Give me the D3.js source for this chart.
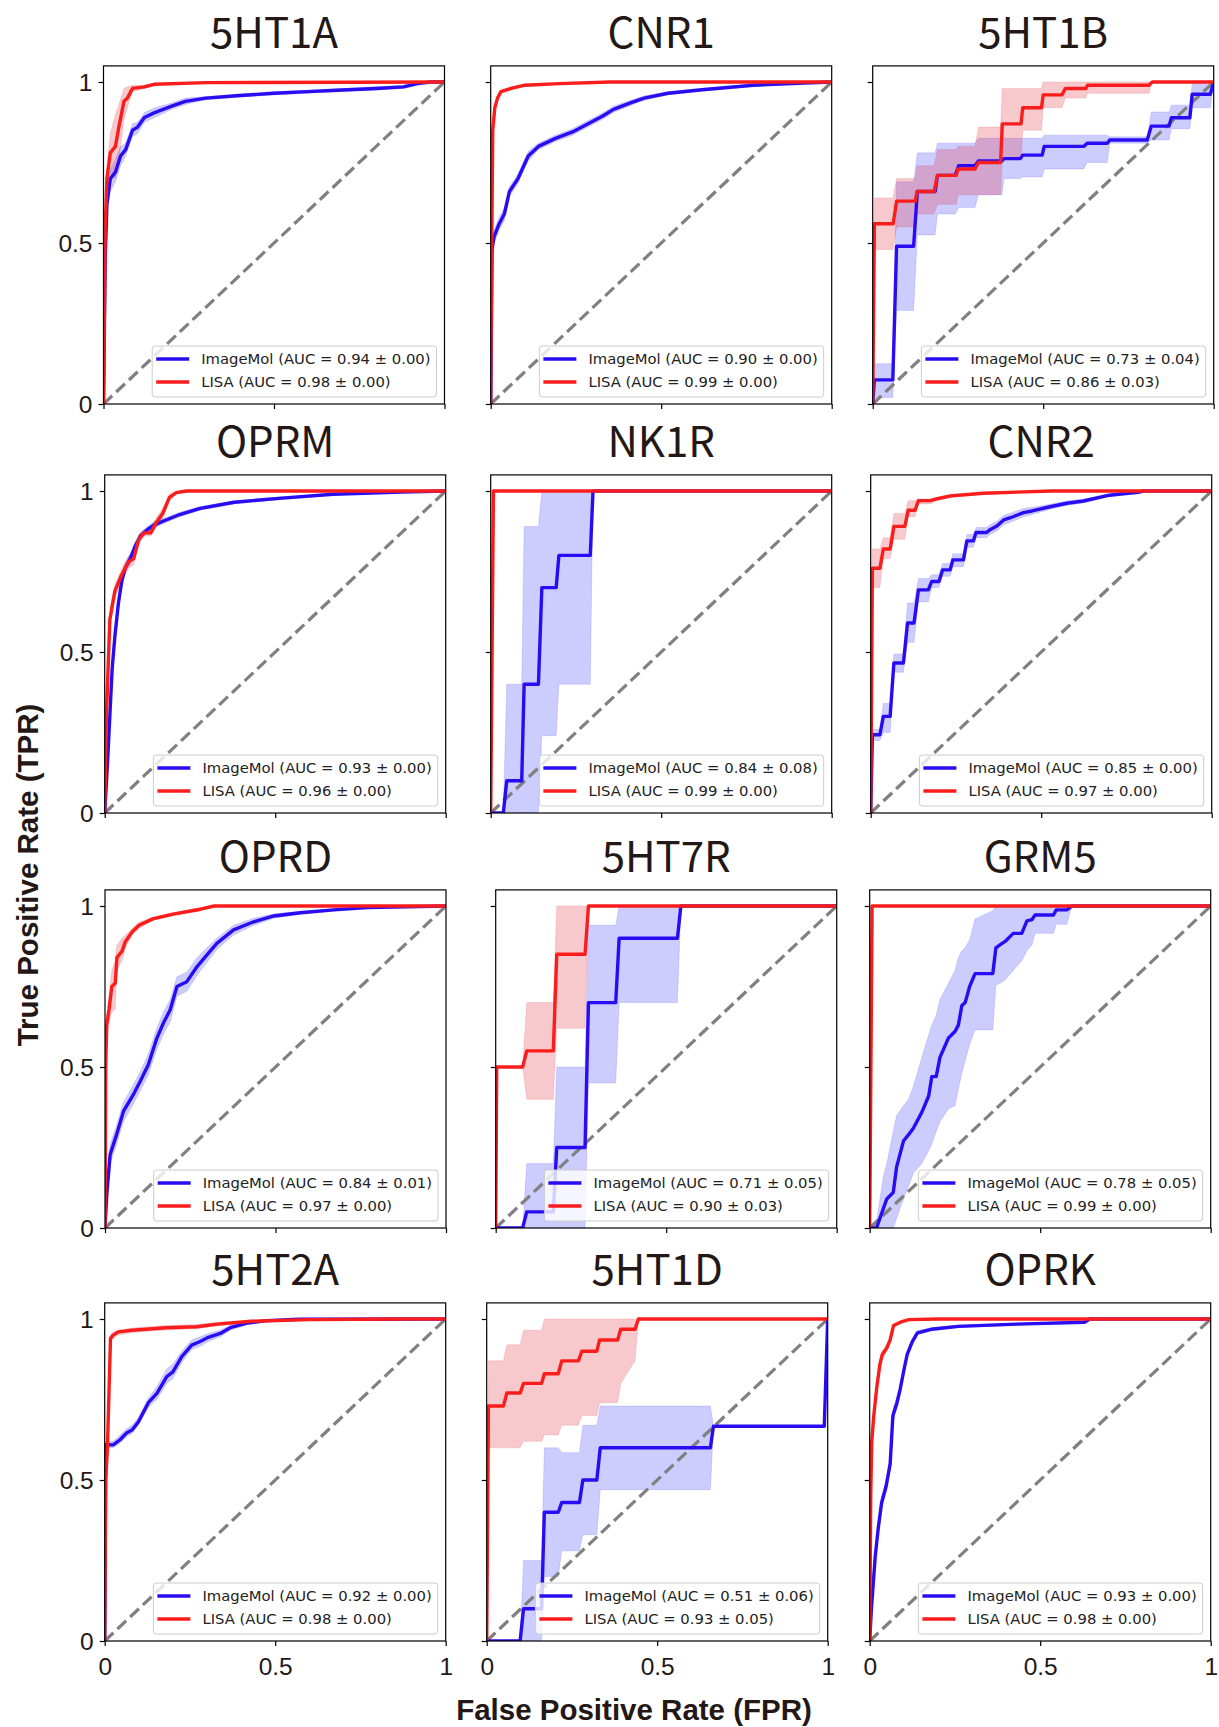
<!DOCTYPE html>
<html>
<head>
<meta charset="utf-8">
<script src="https://cdn.jsdelivr.net/npm/d3@7"></script>
<style>
  body { margin: 0; background: #fff; }
</style>
</head>
<body>
<svg id="canvas" width="1219" height="1727"></svg>
<script>
const targets = ['5HT1A', 'CNR1', '5HT1B', 'OPRM', 'NK1R', 'CNR2', 'OPRD', '5HT7R', 'GRM5', '5HT2A', '5HT1D', 'OPRK']
const aucImageMol = ['0.94 ± 0.00', '0.90 ± 0.00', '0.73 ± 0.04', '0.93 ± 0.00', '0.84 ± 0.08', '0.85 ± 0.00',
                     '0.84 ± 0.01', '0.71 ± 0.05', '0.78 ± 0.05', '0.92 ± 0.00', '0.51 ± 0.06', '0.93 ± 0.00']
const aucLisa = ['0.98 ± 0.00', '0.99 ± 0.00', '0.86 ± 0.03', '0.96 ± 0.00', '0.99 ± 0.00', '0.97 ± 0.00',
                 '0.97 ± 0.00', '0.90 ± 0.03', '0.99 ± 0.00', '0.98 ± 0.00', '0.93 ± 0.05', '0.98 ± 0.00']
const tickValues = [0, 0.5, 1]
const tickLabels = ['0', '0.5', '1']
const modelNames = ['ImageMol', 'LISA']

// every point: [fpr, mean tpr, mean - std, mean + std]
const roc5HT1A_imageMol = [[0,0,0,0],[0.005,0.45,0.43,0.47],[0.01,0.62,0.6,0.64],[0.02,0.70,0.66,0.73],[0.035,0.72,0.69,0.76],
  [0.05,0.77,0.74,0.8],[0.065,0.79,0.77,0.81],[0.085,0.85,0.83,0.87],[0.1,0.86,0.84,0.875],[0.12,0.89,0.875,0.905],
  [0.15,0.905,0.89,0.92],[0.2,0.925,0.915,0.935],[0.24,0.94,0.93,0.95],[0.3,0.95,0.945,0.955],[0.4,0.958,0.953,0.963],
  [0.5,0.965,0.96,0.97],[0.6,0.97,0.965,0.975],[0.7,0.975,0.97,0.98],[0.8,0.98,0.975,0.985],[0.88,0.985,0.98,0.99],
  [0.92,0.995,0.99,1],[0.96,1,1,1],[1,1,1,1]]
const roc5HT1A_lisa = [[0,0,0,0],[0.005,0.55,0.5,0.6],[0.01,0.70,0.65,0.74],[0.02,0.78,0.72,0.84],[0.035,0.80,0.70,0.9],
  [0.045,0.86,0.76,0.93],[0.06,0.94,0.88,0.98],[0.07,0.95,0.92,0.985],[0.085,0.98,0.97,0.99],[0.12,0.985,0.98,0.99],
  [0.15,0.993,0.99,0.996],[0.3,0.998,0.996,1],[1,1,1,1]]

const rocCNR1_imageMol = [[0,0,0,0],[0.004,0.48,0.46,0.5],[0.01,0.52,0.5,0.54],[0.025,0.56,0.54,0.58],[0.04,0.59,0.57,0.61],
  [0.055,0.66,0.645,0.675],[0.08,0.7,0.685,0.715],[0.11,0.77,0.755,0.785],[0.14,0.8,0.79,0.81],[0.19,0.825,0.815,0.835],
  [0.24,0.845,0.835,0.855],[0.29,0.873,0.863,0.883],[0.33,0.895,0.885,0.905],[0.36,0.915,0.905,0.925],[0.41,0.935,0.927,0.943],
  [0.45,0.95,0.943,0.957],[0.52,0.965,0.96,0.97],[0.62,0.976,0.972,0.98],[0.77,0.99,0.987,0.993],[0.92,0.997,0.995,0.999],[1,1,1,1]]
const rocCNR1_lisa = [[0,0,0,0],[0.003,0.5,0.48,0.52],[0.006,0.85,0.83,0.87],[0.012,0.92,0.91,0.93],[0.02,0.95,0.945,0.96],
  [0.03,0.97,0.965,0.975],[0.06,0.98,0.975,0.985],[0.1,0.99,0.987,0.993],[0.2,0.995,0.993,0.997],[0.35,1,1,1],[1,1,1,1]]

const roc5HT1B_imageMol = [[0,0,0,0],[0.005,0.075,0.02,0.125],[0.059,0.075,0.02,0.125],[0.07,0.49,0.29,0.69],[0.12,0.49,0.29,0.69],
  [0.131,0.66,0.525,0.78],[0.183,0.66,0.525,0.78],[0.19,0.71,0.59,0.81],[0.242,0.71,0.59,0.81],[0.252,0.74,0.61,0.81],
  [0.30,0.74,0.61,0.81],[0.31,0.755,0.65,0.825],[0.379,0.755,0.65,0.825],[0.385,0.762,0.70,0.825],[0.433,0.762,0.70,0.825],
  [0.44,0.773,0.705,0.825],[0.497,0.773,0.705,0.825],[0.503,0.80,0.73,0.835],[0.619,0.80,0.73,0.835],[0.629,0.81,0.75,0.835],
  [0.688,0.81,0.75,0.835],[0.695,0.82,0.81,0.83],[0.805,0.82,0.81,0.83],[0.817,0.863,0.82,0.907],[0.869,0.863,0.82,0.907],
  [0.876,0.889,0.855,0.928],[0.93,0.889,0.855,0.928],[0.937,0.962,0.92,0.995],[0.99,0.962,0.92,0.995],[1,1,1,1]]
const roc5HT1B_lisa = [[0,0,0,0],[0.005,0.56,0.48,0.64],[0.06,0.56,0.48,0.64],[0.07,0.63,0.55,0.70],[0.125,0.63,0.55,0.70],
  [0.13,0.66,0.59,0.74],[0.18,0.66,0.59,0.74],[0.19,0.71,0.62,0.79],[0.245,0.71,0.62,0.79],[0.25,0.73,0.65,0.80],
  [0.30,0.73,0.65,0.80],[0.31,0.75,0.65,0.86],[0.375,0.75,0.65,0.86],[0.38,0.87,0.76,0.98],[0.435,0.87,0.76,0.98],
  [0.44,0.92,0.85,0.98],[0.495,0.92,0.85,0.98],[0.50,0.96,0.92,1],[0.555,0.96,0.92,1],[0.565,0.98,0.95,1],
  [0.625,0.98,0.95,1],[0.63,0.99,0.965,1],[0.81,0.99,0.965,1],[0.82,1,1,1],[1,1,1,1]]

const rocOPRM_imageMol = [[0,0,0,0],[0.008,0.15,0.13,0.17],[0.015,0.3,0.28,0.32],[0.022,0.45,0.43,0.47],[0.03,0.55,0.53,0.57],
  [0.04,0.65,0.63,0.67],[0.05,0.72,0.70,0.74],[0.06,0.76,0.745,0.775],[0.075,0.79,0.775,0.805],[0.09,0.83,0.815,0.845],
  [0.105,0.86,0.848,0.872],[0.125,0.88,0.87,0.89],[0.145,0.895,0.885,0.905],[0.18,0.91,0.902,0.918],[0.22,0.927,0.92,0.934],
  [0.28,0.946,0.94,0.952],[0.38,0.965,0.96,0.97],[0.52,0.978,0.974,0.982],[0.67,0.99,0.987,0.993],[0.87,0.997,0.995,0.999],[1,1,1,1]]
const rocOPRM_lisa = [[0,0,0,0],[0.005,0.3,0.28,0.32],[0.015,0.6,0.58,0.63],[0.02,0.63,0.61,0.66],[0.03,0.69,0.67,0.71],
  [0.05,0.74,0.72,0.76],[0.07,0.78,0.76,0.8],[0.085,0.79,0.77,0.81],[0.1,0.85,0.835,0.865],[0.115,0.87,0.86,0.88],
  [0.135,0.87,0.86,0.885],[0.15,0.9,0.885,0.915],[0.17,0.93,0.915,0.945],[0.19,0.98,0.97,0.99],[0.21,0.995,0.99,1],[0.24,1,1,1],[1,1,1,1]]

const rocNK1R_imageMol = [[0,0,0,0],[0.037,0,0,0],[0.047,0.10,0,0.40],[0.091,0.10,0,0.40],[0.098,0.40,0,0.89],[0.14,0.40,0,0.89],
  [0.15,0.70,0.24,1],[0.192,0.70,0.24,1],[0.20,0.80,0.40,1],[0.292,0.80,0.40,1],[0.30,1,1,1],[1,1,1,1]]
const rocNK1R_lisa = [[0,0,0,0],[0.008,1,1,1],[1,1,1,1]]

const rocCNR2_imageMol = [[0,0,0,0],[0.005,0.243,0.225,0.26],[0.027,0.243,0.225,0.26],[0.037,0.30,0.25,0.34],[0.057,0.30,0.25,0.34],
  [0.068,0.466,0.437,0.494],[0.096,0.466,0.437,0.494],[0.108,0.59,0.53,0.652],[0.127,0.59,0.53,0.652],[0.14,0.693,0.656,0.728],
  [0.169,0.693,0.656,0.728],[0.179,0.719,0.70,0.74],[0.2,0.719,0.70,0.74],[0.211,0.755,0.735,0.775],[0.233,0.755,0.735,0.775],
  [0.241,0.786,0.765,0.805],[0.272,0.786,0.765,0.805],[0.282,0.845,0.825,0.865],[0.301,0.845,0.825,0.865],[0.309,0.871,0.855,0.887],
  [0.34,0.871,0.855,0.887],[0.35,0.88,0.865,0.895],[0.37,0.891,0.876,0.906],[0.39,0.91,0.895,0.925],[0.41,0.917,0.903,0.931],
  [0.448,0.933,0.92,0.946],[0.473,0.938,0.927,0.949],[0.526,0.951,0.943,0.959],[0.575,0.962,0.955,0.969],[0.624,0.969,0.963,0.975],
  [0.70,0.987,0.983,0.991],[0.79,0.997,0.996,0.998],[0.8,1,1,1],[1,1,1,1]]
const rocCNR2_lisa = [[0,0,0,0],[0.005,0.76,0.70,0.82],[0.027,0.76,0.70,0.82],[0.037,0.82,0.79,0.855],[0.057,0.82,0.79,0.855],
  [0.068,0.89,0.85,0.93],[0.10,0.89,0.85,0.93],[0.11,0.94,0.92,0.97],[0.13,0.94,0.92,0.97],[0.14,0.97,0.96,0.975],
  [0.175,0.97,0.96,0.975],[0.195,0.976,0.97,0.98],[0.235,0.985,0.98,0.99],[0.33,0.993,0.99,0.996],[0.53,1,1,1],[1,1,1,1]]

const rocOPRD_imageMol = [[0,0,0,0],[0.005,0.1,0.08,0.12],[0.015,0.228,0.2,0.26],[0.034,0.29,0.26,0.32],[0.054,0.362,0.33,0.39],
  [0.083,0.414,0.385,0.445],[0.103,0.455,0.425,0.485],[0.127,0.507,0.475,0.54],[0.152,0.589,0.555,0.62],[0.171,0.636,0.6,0.67],
  [0.191,0.677,0.64,0.71],[0.211,0.75,0.72,0.78],[0.24,0.765,0.735,0.795],[0.27,0.812,0.785,0.84],[0.299,0.848,0.825,0.87],
  [0.328,0.884,0.865,0.9],[0.377,0.926,0.91,0.94],[0.436,0.951,0.94,0.962],[0.495,0.969,0.962,0.976],[0.573,0.979,0.974,0.984],
  [0.671,0.988,0.985,0.991],[0.769,0.995,0.993,0.997],[1,1,1,1]]
const rocOPRD_lisa = [[0,0,0,0],[0.002,0.5,0.45,0.55],[0.005,0.63,0.6,0.66],[0.012,0.68,0.64,0.72],[0.02,0.75,0.67,0.8],
  [0.03,0.76,0.68,0.83],[0.035,0.84,0.8,0.88],[0.05,0.86,0.83,0.9],[0.06,0.89,0.87,0.91],[0.08,0.92,0.91,0.93],
  [0.1,0.94,0.93,0.95],[0.14,0.96,0.955,0.965],[0.2,0.975,0.97,0.98],[0.28,0.99,0.985,0.995],[0.32,1,1,1],[1,1,1,1]]

const roc5HT7R_imageMol = [[0,0,0,0],[0.079,0,0,0],[0.091,0.05,0,0.20],[0.169,0.05,0,0.20],[0.179,0.25,0,0.50],[0.262,0.25,0,0.50],
  [0.272,0.70,0.45,0.94],[0.352,0.70,0.45,0.94],[0.362,0.90,0.70,1],[0.533,0.90,0.70,1],[0.543,1,1,1],[1,1,1,1]]
const roc5HT7R_lisa = [[0,0,0,0],[0.003,0.5,0.5,0.5],[0.079,0.5,0.5,0.5],[0.091,0.55,0.40,0.70],[0.169,0.55,0.40,0.70],
  [0.179,0.85,0.62,1],[0.262,0.85,0.62,1],[0.272,1,1,1],[1,1,1,1]]

const rocGRM5_imageMol = [[0,0,0,0],[0.02,0,0,0.02],[0.04,0.06,0,0.16],[0.05,0.09,0,0.2],[0.069,0.11,0,0.3],[0.079,0.19,0.03,0.35],
  [0.099,0.27,0.09,0.38],[0.114,0.29,0.13,0.4],[0.128,0.31,0.17,0.44],[0.153,0.36,0.2,0.53],[0.173,0.41,0.24,0.6],
  [0.182,0.47,0.26,0.63],[0.195,0.47,0.3,0.66],[0.206,0.53,0.33,0.71],[0.231,0.59,0.37,0.76],[0.25,0.61,0.38,0.8],
  [0.26,0.63,0.43,0.84],[0.27,0.69,0.48,0.86],[0.28,0.70,0.52,0.87],[0.293,0.75,0.57,0.895],[0.309,0.79,0.615,0.96],
  [0.361,0.79,0.615,0.985],[0.37,0.87,0.755,1],[0.383,0.88,0.76,1],[0.397,0.89,0.77,1],[0.421,0.915,0.80,1],
  [0.446,0.915,0.83,1],[0.461,0.954,0.86,1],[0.476,0.958,0.88,1],[0.485,0.972,0.915,1],[0.539,0.972,0.915,1],
  [0.547,0.988,0.943,1],[0.578,0.988,0.943,1],[0.593,1,1,1],[1,1,1,1]]
const rocGRM5_lisa = [[0,0,0,0],[0.007,1,1,1],[1,1,1,1]]

const roc5HT2A_imageMol = [[0,0,0,0],[0.003,0.61,0.6,0.62],[0.025,0.609,0.6,0.62],[0.045,0.625,0.615,0.64],[0.065,0.647,0.635,0.66],
  [0.08,0.655,0.645,0.67],[0.099,0.681,0.67,0.695],[0.128,0.74,0.725,0.755],[0.153,0.769,0.75,0.79],[0.182,0.821,0.8,0.845],
  [0.2,0.836,0.815,0.86],[0.226,0.883,0.865,0.9],[0.255,0.919,0.905,0.935],[0.28,0.93,0.915,0.945],[0.304,0.943,0.93,0.955],
  [0.339,0.955,0.945,0.965],[0.368,0.973,0.965,0.98],[0.417,0.987,0.982,0.992],[0.475,0.995,0.993,0.997],[0.57,0.999,0.998,1],[1,1,1,1]]
const roc5HT2A_lisa = [[0,0,0,0],[0.003,0.5,0.49,0.51],[0.008,0.6,0.59,0.61],[0.017,0.94,0.93,0.95],[0.025,0.95,0.94,0.96],
  [0.04,0.96,0.95,0.965],[0.08,0.965,0.958,0.972],[0.18,0.973,0.966,0.98],[0.27,0.976,0.97,0.983],[0.33,0.984,0.978,0.99],
  [0.43,0.993,0.99,0.996],[0.6,0.998,0.997,0.999],[0.87,1,1,1],[1,1,1,1]]

const roc5HT1D_imageMol = [[0,0,0,0],[0.098,0,0,0],[0.108,0.10,0,0.25],[0.161,0.10,0,0.25],[0.169,0.40,0.20,0.60],[0.21,0.40,0.20,0.60],
  [0.22,0.43,0.28,0.585],[0.272,0.43,0.28,0.585],[0.282,0.50,0.33,0.67],[0.323,0.50,0.33,0.67],[0.333,0.60,0.47,0.73],
  [0.656,0.60,0.47,0.73],[0.665,0.667,0.667,0.667],[0.99,0.667,0.667,0.667],[1,1,1,1]]
const roc5HT1D_lisa = [[0,0,0,0],[0.005,0.73,0.60,0.87],[0.049,0.73,0.60,0.87],[0.059,0.77,0.60,0.92],[0.098,0.77,0.60,0.92],
  [0.108,0.80,0.62,0.965],[0.161,0.80,0.62,0.965],[0.169,0.83,0.64,1],[0.21,0.83,0.64,1],[0.22,0.87,0.67,1],
  [0.269,0.87,0.67,1],[0.279,0.90,0.70,1],[0.323,0.90,0.70,1],[0.331,0.935,0.74,1],[0.384,0.935,0.74,1],
  [0.393,0.968,0.80,1],[0.435,0.968,0.87,1],[0.445,1,1,1],[1,1,1,1]]

const rocOPRK_imageMol = [[0,0,0,0],[0.005,0.1,0.08,0.12],[0.016,0.26,0.24,0.28],[0.025,0.35,0.33,0.37],[0.035,0.43,0.41,0.45],
  [0.048,0.48,0.46,0.5],[0.06,0.55,0.53,0.57],[0.068,0.7,0.68,0.72],[0.08,0.74,0.72,0.76],[0.089,0.78,0.765,0.795],
  [0.1,0.84,0.825,0.855],[0.11,0.89,0.88,0.9],[0.125,0.93,0.92,0.94],[0.14,0.957,0.95,0.964],[0.18,0.968,0.963,0.973],
  [0.26,0.977,0.973,0.981],[0.43,0.984,0.981,0.987],[0.63,0.99,0.988,0.992],[0.645,1,1,1],[1,1,1,1]]
const rocOPRK_lisa = [[0,0,0,0],[0.003,0.45,0.43,0.47],[0.006,0.62,0.6,0.64],[0.012,0.7,0.68,0.72],[0.021,0.79,0.77,0.81],
  [0.03,0.86,0.84,0.875],[0.037,0.89,0.875,0.9],[0.05,0.91,0.9,0.92],[0.06,0.935,0.925,0.945],[0.07,0.98,0.975,0.985],
  [0.09,0.99,0.987,0.993],[0.115,0.998,0.997,0.999],[0.2,1,1,1],[1,1,1,1]]

const imageMolCurves = [roc5HT1A_imageMol, rocCNR1_imageMol, roc5HT1B_imageMol, rocOPRM_imageMol, rocNK1R_imageMol, rocCNR2_imageMol,
  rocOPRD_imageMol, roc5HT7R_imageMol, rocGRM5_imageMol, roc5HT2A_imageMol, roc5HT1D_imageMol, rocOPRK_imageMol]
const lisaCurves = [roc5HT1A_lisa, rocCNR1_lisa, roc5HT1B_lisa, rocOPRM_lisa, rocNK1R_lisa, rocCNR2_lisa,
  rocOPRD_lisa, roc5HT7R_lisa, rocGRM5_lisa, roc5HT2A_lisa, roc5HT1D_lisa, rocOPRK_lisa]

// layout: left edge of each frame and the pixel row of tpr = 0
const panelLeft = [103.5, 490.7, 872.7, 104.7, 490.7, 870.7, 105, 495.7, 869.7, 104.7, 486.7, 869.7]
const rowBase = [404, 813, 1228, 1641]
const plotW = 341
const unitH = 322

const blue = '#2a0cf2'
const red = '#fb1c1c'
const ink = '#231815'

let canvas = d3.select('#canvas')

function drawPanel(i) {
    let col = i % 3
    let row = Math.floor(i / 3)
    let left = panelLeft[i]
    let base = rowBase[row]

    let x = d3.scaleLinear().domain([0, 1]).range([left, left + plotW])
    let y = d3.scaleLinear().domain([0, 1]).range([base, base - unitH])
    let top = y(1.05)

    let g = canvas.append('g')

    g.append('clipPath').attr('id', 'clip' + i)
        .append('rect')
        .attr('x', x(0)).attr('y', top)
        .attr('width', plotW).attr('height', base - top)

    let plot = g.append('g').attr('clip-path', 'url(#clip' + i + ')')

    let band = d3.area()
        .x((d) => x(d[0]))
        .y0((d) => y(d[2]))
        .y1((d) => y(d[3]))
    let line = d3.line()
        .x((d) => x(d[0]))
        .y((d) => y(d[1]))

    plot.append('path').attr('d', band(imageMolCurves[i]))
        .attr('fill', '#0000ff').attr('fill-opacity', 0.2)
        .attr('stroke', '#0000ff').attr('stroke-opacity', 0.12).attr('stroke-width', 1)
    plot.append('path').attr('d', band(lisaCurves[i]))
        .attr('fill', '#e0303c').attr('fill-opacity', 0.26)
        .attr('stroke', '#e0303c').attr('stroke-opacity', 0.15).attr('stroke-width', 1)

    // chance line
    plot.append('line')
        .attr('x1', x(0)).attr('y1', y(0))
        .attr('x2', x(1)).attr('y2', y(1))
        .attr('stroke', '#808080').attr('stroke-width', 3.2)
        .attr('stroke-dasharray', '12,5.5')

    plot.append('path').attr('d', line(imageMolCurves[i]))
        .attr('fill', 'none').attr('stroke', blue).attr('stroke-width', 3.4)
        .attr('stroke-linejoin', 'round')
    plot.append('path').attr('d', line(lisaCurves[i]))
        .attr('fill', 'none').attr('stroke', red).attr('stroke-width', 3.4)
        .attr('stroke-linejoin', 'round')

    // frame
    g.append('rect')
        .attr('x', x(0)).attr('y', top)
        .attr('width', plotW).attr('height', base - top)
        .attr('fill', 'none').attr('stroke', '#000').attr('stroke-width', 1.2)

    let yAxis = d3.axisLeft(y).tickValues(tickValues).tickSize(5).tickPadding(6)
        .tickFormat((d, k) => col === 0 ? tickLabels[k] : '')
    let xAxis = d3.axisBottom(x).tickValues(tickValues).tickSize(5).tickPadding(6)
        .tickFormat((d, k) => row === 3 ? tickLabels[k] : '')

    let ya = g.append('g').attr('transform', 'translate(' + x(0) + ',0)').call(yAxis)
    let xa = g.append('g').attr('transform', 'translate(0,' + base + ')').call(xAxis)
    for (let a of [ya, xa]) {
        a.select('.domain').remove()
        a.selectAll('line').attr('stroke', '#000').attr('stroke-width', 1.2)
        a.selectAll('text')
            .attr('font-family', '"Liberation Sans", Arial, sans-serif')
            .attr('font-size', 24.5).attr('fill', ink)
    }
    ya.selectAll('text').attr('dy', '0.36em')
    xa.selectAll('text').attr('dy', '0.95em')

    // title
    g.append('text')
        .attr('x', x(0.5)).attr('y', top - 18)
        .attr('text-anchor', 'middle')
        .attr('font-family', '"Noto Sans CJK SC", "Noto Sans", sans-serif')
        .attr('font-size', 42).attr('fill', ink)
        .text(targets[i])

    // legend, lower right
    let leg = g.append('g')
    let box = leg.append('rect')
        .attr('rx', 3).attr('ry', 3)
        .attr('fill', '#fff').attr('fill-opacity', 0.8)
        .attr('stroke', '#cccccc').attr('stroke-width', 1)
    let labels = [modelNames[0] + ' (AUC = ' + aucImageMol[i] + ')', modelNames[1] + ' (AUC = ' + aucLisa[i] + ')']
    let colors = [blue, red]
    let maxW = 0
    labels.forEach((lab, k) => {
        leg.append('line')
            .attr('x1', 4).attr('x2', 37)
            .attr('y1', 13 + k * 23).attr('y2', 13 + k * 23)
            .attr('stroke', colors[k]).attr('stroke-width', 3.4)
        let t = leg.append('text')
            .attr('x', 49).attr('y', 13 + k * 23).attr('dy', '0.36em')
            .attr('font-family', '"DejaVu Sans", sans-serif')
            .attr('font-size', 14.8).attr('fill', '#222')
            .text(lab)
        maxW = Math.max(maxW, t.node().getComputedTextLength())
    })
    let boxW = 49 + maxW + 6
    box.attr('width', boxW).attr('height', 51)
    leg.attr('transform', 'translate(' + (x(1) - 8 - boxW) + ',' + (base - 7 - 51) + ')')
}

for (let i = 0; i < targets.length; i++) {
    drawPanel(i)
}

// shared axis titles
canvas.append('text')
    .attr('transform', 'translate(38,875) rotate(-90)')
    .attr('text-anchor', 'middle')
    .attr('font-family', '"Liberation Sans", Arial, sans-serif')
    .attr('font-weight', 'bold').attr('font-size', 29.5).attr('fill', ink)
    .text('True Positive Rate (TPR)')

canvas.append('text')
    .attr('x', 634).attr('y', 1720)
    .attr('text-anchor', 'middle')
    .attr('font-family', '"Liberation Sans", Arial, sans-serif')
    .attr('font-weight', 'bold').attr('font-size', 29.5).attr('fill', ink)
    .text('False Positive Rate (FPR)')
</script>
</body>
</html>
